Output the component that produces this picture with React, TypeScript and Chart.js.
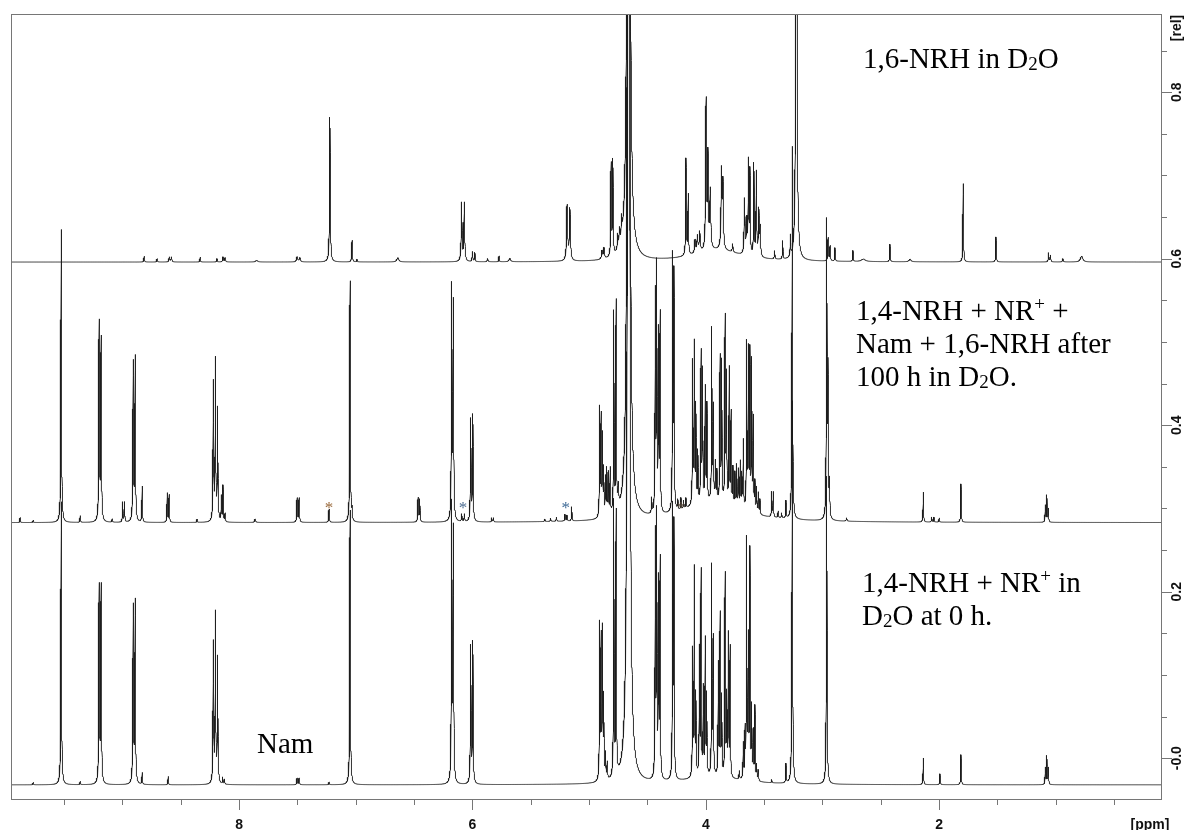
import React, { useEffect, useRef } from 'react';
import { Chart, registerables } from 'chart.js';

Chart.register(...registerables);

// Peak tables: [shift in ppm, height in rel. units above the trace baseline, half-width in ppm]
type Peak = [number, number, number];

// 1,6-NRH in D2O (upper trace)
const baseline16NRH = 0.596;
const peaks16NRH: Peak[] = [
  [8.814, 0.007, 0.003], [8.703, 0.004, 0.003], [8.598, 0.006, 0.004], [8.58, 0.006, 0.004],
  [8.334, 0.006, 0.0025], [8.19, 0.004, 0.003], [8.138, 0.006, 0.004], [8.12, 0.005, 0.004],
  [7.85, 0.002, 0.01], [7.503, 0.006, 0.006], [7.48, 0.005, 0.006], [7.222, 0.174, 0.0035],
  [7.032, 0.026, 0.003], [6.99, 0.003, 0.003], [6.64, 0.005, 0.01],
  [6.093, 0.07, 0.004], [6.07, 0.07, 0.004], [6.0, 0.012, 0.003], [5.98, 0.011, 0.003],
  [5.87, 0.004, 0.004], [5.772, 0.007, 0.0025], [5.68, 0.004, 0.008],
  [5.189, 0.066, 0.005], [5.165, 0.062, 0.005],
  [4.89, 0.01, 0.005], [4.873, 0.013, 0.005], [4.812, 0.11, 0.003], [4.797, 0.113, 0.003],
  [4.755, 0.018, 0.004], [4.74, 0.02, 0.004], [4.722, 0.024, 0.004],
  [4.662, 3.0, 0.0062],
  [4.17, 0.116, 0.003], [4.151, 0.072, 0.003], [4.092, 0.016, 0.005], [4.072, 0.02, 0.005],
  [4.052, 0.024, 0.005], [3.998, 0.178, 0.004], [3.982, 0.11, 0.004], [3.962, 0.07, 0.005],
  [3.865, 0.094, 0.005], [3.853, 0.075, 0.004], [3.77, 0.01, 0.004],
  [3.668, 0.066, 0.004], [3.65, 0.04, 0.004], [3.635, 0.11, 0.003], [3.622, 0.1, 0.003],
  [3.588, 0.11, 0.003], [3.567, 0.1, 0.003], [3.546, 0.055, 0.004], [3.534, 0.034, 0.004],
  [3.41, 0.01, 0.003], [3.341, 0.022, 0.0025], [3.275, 0.025, 0.0025], [3.224, 1.0, 0.0042],
  [2.952, 0.028, 0.003], [2.935, 0.018, 0.003], [2.893, 0.016, 0.0025], [2.739, 0.013, 0.0025],
  [2.65, 0.003, 0.02], [2.422, 0.021, 0.0025], [2.25, 0.003, 0.01], [1.794, 0.094, 0.0025],
  [1.513, 0.03, 0.0025], [1.062, 0.011, 0.003], [1.046, 0.008, 0.003], [0.94, 0.004, 0.004],
  [0.779, 0.007, 0.012],
  [3.9, 0.014, 0.25],
];

// 1,4-NRH + NR+ + Nam + 1,6-NRH after 100 h in D2O (middle trace)
const baselineMix100h = 0.283;
const peaksMix100h: Peak[] = [
  [9.877, 0.006, 0.0025], [9.765, 0.003, 0.0025], [9.525, 0.352, 0.003], [9.362, 0.008, 0.0025],
  [9.2, 0.238, 0.003], [9.183, 0.218, 0.003], [9.088, 0.004, 0.003], [8.998, 0.024, 0.0025],
  [8.982, 0.024, 0.0025], [8.908, 0.19, 0.003], [8.891, 0.196, 0.003], [8.831, 0.043, 0.0025],
  [8.616, 0.035, 0.0025], [8.6, 0.033, 0.0025], [8.36, 0.004, 0.0025],
  [8.221, 0.166, 0.003], [8.203, 0.192, 0.003], [8.184, 0.134, 0.003],
  [8.152, 0.03, 0.0025], [8.138, 0.043, 0.0025], [8.12, 0.01, 0.0025], [7.863, 0.004, 0.005],
  [7.503, 0.029, 0.003], [7.486, 0.029, 0.003], [7.229, 0.016, 0.003],
  [7.049, 0.29, 0.003], [7.032, 0.012, 0.0025], [6.466, 0.029, 0.003], [6.452, 0.027, 0.003],
  [6.178, 0.278, 0.003], [6.164, 0.258, 0.003], [6.092, 0.009, 0.003], [6.069, 0.009, 0.003],
  [6.015, 0.122, 0.003], [5.997, 0.127, 0.003], [5.835, 0.005, 0.0025], [5.82, 0.005, 0.0025],
  [5.38, 0.003, 0.003], [5.33, 0.004, 0.003], [5.28, 0.005, 0.003],
  [5.207, 0.008, 0.003], [5.19, 0.007, 0.003], [5.149, 0.017, 0.0025],
  [4.91, 0.13, 0.0026], [4.898, 0.118, 0.0026], [4.886, 0.095, 0.0026], [4.875, 0.055, 0.0026],
  [4.86, 0.045, 0.0026], [4.848, 0.055, 0.0026], [4.835, 0.05, 0.0026], [4.82, 0.055, 0.0026],
  [4.789, 0.24, 0.0026], [4.769, 0.25, 0.0026], [4.75, 0.025, 0.004],
  [4.662, 3.0, 0.0064],
  [4.464, 0.018, 0.0025],
  [4.433, 0.26, 0.0026], [4.421, 0.29, 0.0026], [4.405, 0.21, 0.0026], [4.392, 0.235, 0.0026],
  [4.284, 0.3, 0.0026], [4.273, 0.28, 0.0026],
  [4.24, 0.012, 0.003], [4.213, 0.014, 0.003], [4.19, 0.01, 0.003], [4.17, 0.012, 0.003],
  [4.113, 0.17, 0.0026], [4.099, 0.19, 0.0026], [4.085, 0.115, 0.0026], [4.068, 0.06, 0.0026],
  [4.041, 0.178, 0.0026], [4.028, 0.155, 0.0026], [4.005, 0.135, 0.0026], [3.99, 0.115, 0.0026],
  [3.949, 0.205, 0.0026], [3.936, 0.11, 0.0026], [3.918, 0.045, 0.0026], [3.905, 0.035, 0.0026],
  [3.878, 0.172, 0.0026], [3.864, 0.166, 0.0026], [3.835, 0.22, 0.0026], [3.823, 0.15, 0.0026],
  [3.8, 0.162, 0.0026], [3.784, 0.11, 0.0026], [3.767, 0.045, 0.0026], [3.75, 0.04, 0.0026],
  [3.735, 0.05, 0.0026], [3.72, 0.045, 0.0026], [3.705, 0.055, 0.0026], [3.692, 0.04, 0.0026],
  [3.679, 0.082, 0.0026], [3.65, 0.198, 0.0026], [3.636, 0.188, 0.0026], [3.622, 0.188, 0.0026],
  [3.607, 0.177, 0.0026], [3.593, 0.11, 0.0026], [3.579, 0.035, 0.0026], [3.565, 0.03, 0.0026],
  [3.55, 0.025, 0.0026], [3.536, 0.018, 0.0026],
  [3.435, 0.03, 0.0025], [3.422, 0.03, 0.0025], [3.38, 0.008, 0.003], [3.35, 0.006, 0.003],
  [3.313, 0.021, 0.0025], [3.259, 0.448, 0.003],
  [2.964, 0.352, 0.003], [2.953, 0.17, 0.003], [2.94, 0.04, 0.003], [2.793, 0.004, 0.004],
  [2.136, 0.036, 0.0025], [2.064, 0.006, 0.0025], [2.045, 0.006, 0.0025], [2.0, 0.005, 0.0025],
  [1.813, 0.046, 0.0025], [1.09, 0.02, 0.0025], [1.077, 0.032, 0.0025], [1.064, 0.016, 0.0025],
  [3.95, 0.024, 0.3],
];

// 1,4-NRH + NR+ in D2O at 0 h (lower trace)
const baselineMix0h = -0.032;
const peaksMix0h: Peak[] = [
  [9.765, 0.003, 0.0025], [9.525, 0.34, 0.003], [9.362, 0.004, 0.0025],
  [9.2, 0.236, 0.003], [9.183, 0.236, 0.003], [8.908, 0.212, 0.003], [8.891, 0.218, 0.003],
  [8.831, 0.014, 0.0025], [8.608, 0.01, 0.0025],
  [8.221, 0.168, 0.003], [8.203, 0.202, 0.003], [8.184, 0.15, 0.003],
  [8.14, 0.008, 0.0025], [8.125, 0.006, 0.0025], [7.503, 0.008, 0.003], [7.486, 0.008, 0.003],
  [7.229, 0.003, 0.003], [7.049, 0.33, 0.003],
  [6.178, 0.33, 0.003], [6.164, 0.3, 0.003], [6.015, 0.164, 0.003], [5.997, 0.169, 0.003],
  [4.91, 0.185, 0.0026], [4.898, 0.165, 0.0026], [4.886, 0.176, 0.0026], [4.875, 0.095, 0.0026],
  [4.86, 0.03, 0.003], [4.845, 0.02, 0.003],
  [4.789, 0.33, 0.0026], [4.769, 0.315, 0.0026],
  [4.662, 3.0, 0.0064],
  [4.433, 0.29, 0.0026], [4.421, 0.31, 0.0026], [4.405, 0.23, 0.0026], [4.392, 0.26, 0.0026],
  [4.284, 0.32, 0.0026], [4.273, 0.3, 0.0026],
  [4.113, 0.15, 0.0026], [4.099, 0.248, 0.0026], [4.085, 0.095, 0.0026],
  [4.055, 0.15, 0.0026], [4.041, 0.244, 0.0026], [4.022, 0.103, 0.0026],
  [4.005, 0.162, 0.0026], [3.992, 0.095, 0.0026], [3.949, 0.25, 0.0026], [3.936, 0.162, 0.0026],
  [3.893, 0.133, 0.0026], [3.878, 0.192, 0.0026], [3.864, 0.092, 0.0026],
  [3.835, 0.242, 0.0026], [3.821, 0.092, 0.0026], [3.807, 0.168, 0.0026], [3.792, 0.155, 0.0026],
  [3.713, 0.01, 0.003], [3.679, 0.042, 0.0026], [3.664, 0.056, 0.0026],
  [3.65, 0.285, 0.0026], [3.636, 0.162, 0.0026], [3.622, 0.272, 0.0026], [3.607, 0.083, 0.0026],
  [3.593, 0.056, 0.0026], [3.579, 0.088, 0.0026], [3.564, 0.018, 0.0026], [3.55, 0.013, 0.0026],
  [3.435, 0.004, 0.0025], [3.313, 0.023, 0.0025], [3.259, 0.46, 0.003],
  [2.964, 0.37, 0.003], [2.136, 0.032, 0.0025], [1.993, 0.013, 0.0025], [1.813, 0.036, 0.0025],
  [1.09, 0.02, 0.0025], [1.077, 0.034, 0.0025], [1.064, 0.02, 0.0025],
  [3.95, 0.008, 0.3],
];

// Axis ranges and ticks
const ppmMin = 0.09;
const ppmMax = 9.955;
const relMin = -0.049;
const relMax = 0.894;
const ppmStep = 0.001;
const xMajorTicks = [8, 6, 4, 2];
const xTickLabels = ['8', '6', '4', '2'];
const xMinorStep = 0.5;
const yMajorTicks = [0, 0.2, 0.4, 0.6, 0.8];
const yTickLabels = ['-0.0', '0.2', '0.4', '0.6', '0.8'];
const yMinorStep = 0.05;

// Starred residual signals in the 100 h trace
const starredPpm = [7.229, 6.08, 5.2, 4.213];
const starColors = ['#9a6a3c', '#4d6d92', '#3e6a96', '#5c4c3c'];

type Seg = { t: string; k?: 'sub' | 'sup' };
const labelTop: Seg[][] = [[{ t: '1,6-NRH in D' }, { t: '2', k: 'sub' }, { t: 'O' }]];
const labelMiddle: Seg[][] = [
  [{ t: '1,4-NRH + NR' }, { t: '+', k: 'sup' }, { t: ' +' }],
  [{ t: 'Nam + 1,6-NRH after' }],
  [{ t: '100 h in D' }, { t: '2', k: 'sub' }, { t: 'O.' }],
];
const labelBottom: Seg[][] = [
  [{ t: '1,4-NRH + NR' }, { t: '+', k: 'sup' }, { t: ' in' }],
  [{ t: 'D' }, { t: '2', k: 'sub' }, { t: 'O at 0 h.' }],
];
const labelNam: Seg[][] = [[{ t: 'Nam' }]];

// Sum of Lorentzian lines on a fine ppm grid, plus every peak centre
function trace(peaks: Peak[], base: number) {
  const xs: number[] = [];
  const n = Math.round((ppmMax - ppmMin) / ppmStep);
  for (let i = 0; i <= n; i++) xs.push(ppmMin + i * ppmStep);
  for (const p of peaks) if (p[0] > ppmMin && p[0] < ppmMax) xs.push(p[0]);
  xs.sort((a, b) => a - b);
  return xs.map((x) => {
    let y = base;
    for (const [c, h, w] of peaks) {
      const d = x - c;
      y += (h * w * w) / (w * w + d * d);
    }
    return { x, y };
  });
}

const SERIF = '"Liberation Serif", "Times New Roman", serif';
const SANS = '"Liberation Sans", Arial, sans-serif';

function drawRich(ctx: CanvasRenderingContext2D, lines: Seg[][], x: number, y: number, size: number, lead: number) {
  lines.forEach((segs, li) => {
    let cx = x;
    const by = y + li * lead;
    for (const s of segs) {
      const fs = s.k ? Math.round(size * 0.64) : size;
      ctx.font = `${fs}px ${SERIF}`;
      const dy = s.k === 'sub' ? size * 0.08 : s.k === 'sup' ? -size * 0.34 : 0;
      ctx.fillText(s.t, cx, by + dy);
      cx += ctx.measureText(s.t).width;
    }
  });
}

const frameAndText = {
  id: 'frameAndText',
  afterDraw(chart: any) {
    const { ctx, chartArea: a } = chart;
    const xs = chart.scales.x;
    const ys = chart.scales.y;
    ctx.save();
    ctx.strokeStyle = '#767676';
    ctx.lineWidth = 1;
    ctx.strokeRect(a.left + 0.5, a.top + 0.5, a.right - a.left - 1, a.bottom - a.top);

    // x ticks (ppm)
    ctx.beginPath();
    for (let v = xMinorStep; v < ppmMax; v += xMinorStep) {
      const px = Math.round(xs.getPixelForValue(v)) + 0.5;
      const major = xMajorTicks.some((t) => Math.abs(t - v) < 1e-6);
      ctx.moveTo(px, a.bottom);
      ctx.lineTo(px, a.bottom + (major ? 11 : 6));
    }
    // y ticks (rel)
    for (let v = 0; v < relMax; v += yMinorStep) {
      const py = Math.round(ys.getPixelForValue(v)) + 0.5;
      const major = yMajorTicks.some((t) => Math.abs(t - v) < 1e-6);
      ctx.moveTo(a.right - 1, py);
      ctx.lineTo(a.right - 1 + (major ? 11 : 6), py);
    }
    ctx.stroke();

    ctx.fillStyle = '#111';
    ctx.font = `bold 14px ${SANS}`;
    ctx.textAlign = 'center';
    ctx.textBaseline = 'middle';
    xMajorTicks.forEach((v, i) => ctx.fillText(xTickLabels[i], xs.getPixelForValue(v), a.bottom + 26));
    ctx.fillText('[ppm]', 1150, a.bottom + 26);

    const lx = a.right + 15;
    const rot = (text: string, py: number) => {
      ctx.save();
      ctx.translate(lx, py);
      ctx.rotate(-Math.PI / 2);
      ctx.fillText(text, 0, 0);
      ctx.restore();
    };
    yMajorTicks.forEach((v, i) => rot(yTickLabels[i], ys.getPixelForValue(v)));
    rot('[rel]', a.top + 14);

    // trace labels
    ctx.fillStyle = '#000';
    ctx.textAlign = 'left';
    ctx.textBaseline = 'alphabetic';
    drawRich(ctx, labelTop, 863, 68, 29, 33);
    drawRich(ctx, labelMiddle, 856, 320, 29, 33);
    drawRich(ctx, labelBottom, 862, 592, 29, 33);
    drawRich(ctx, labelNam, 257, 753, 29, 33);

    // asterisks over residual signals
    ctx.textAlign = 'center';
    ctx.font = `17px ${SERIF}`;
    starredPpm.forEach((p, i) => {
      ctx.fillStyle = starColors[i];
      ctx.fillText('*', xs.getPixelForValue(p), ys.getPixelForValue(baselineMix100h + 0.025) + 11);
    });
    ctx.restore();
  },
};

export default function App() {
  const ref = useRef<HTMLCanvasElement | null>(null);
  useEffect(() => {
    document.body.style.margin = '0';
    const canvas = ref.current;
    if (!canvas) return;
    const line = (data: { x: number; y: number }[]) => ({
      data,
      borderColor: '#1c1c1c',
      borderWidth: 0.9,
      pointRadius: 0,
      tension: 0,
      fill: false,
    });
    const chart = new Chart(canvas, {
      type: 'line',
      data: {
        datasets: [
          line(trace(peaks16NRH, baseline16NRH)),
          line(trace(peaksMix100h, baselineMix100h)),
          line(trace(peaksMix0h, baselineMix0h)),
        ],
      },
      options: {
        animation: false,
        responsive: false,
        devicePixelRatio: 1,
        parsing: false,
        normalized: true,
        events: [],
        layout: { padding: { left: 11, right: 30, top: 14, bottom: 31 } },
        scales: {
          x: { type: 'linear', reverse: true, min: ppmMin, max: ppmMax, display: false },
          y: { type: 'linear', min: relMin, max: relMax, display: false },
        },
        plugins: { legend: { display: false }, tooltip: { enabled: false } },
      } as any,
      plugins: [frameAndText],
    });
    return () => chart.destroy();
  }, []);
  return (
    <div style={{ width: 1192, height: 830, background: '#fff' }}>
      <canvas ref={ref} width={1192} height={830} style={{ display: 'block' }} />
    </div>
  );
}
